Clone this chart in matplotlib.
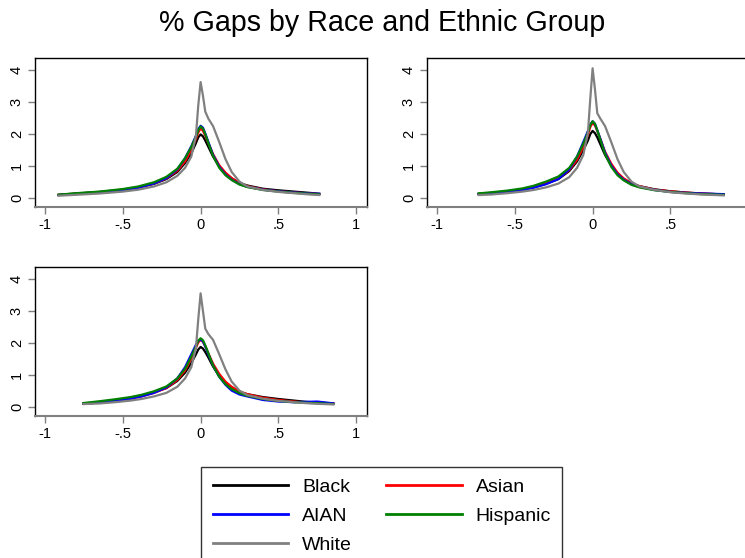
import matplotlib
matplotlib.use("Agg")
import matplotlib.pyplot as plt
from matplotlib.lines import Line2D

plt.rcParams['font.family'] = ['Liberation Sans', 'DejaVu Sans']

groups = ['Black', 'Asian', 'AIAN', 'Hispanic', 'White']
colors = {'Black': 'black', 'Asian': 'red', 'AIAN': 'blue', 'Hispanic': 'green', 'White': 'gray'}

# panel 1 (top left)
x1 = [-0.92, -0.8, -0.65, -0.5, -0.4, -0.3, -0.22, -0.15, -0.1, -0.06, -0.03, -0.015, 0,
      0.015, 0.03, 0.05, 0.08, 0.12, 0.16, 0.2, 0.25, 0.3, 0.4, 0.5, 0.6, 0.7, 0.77]
black1 = [0.11, 0.15, 0.2, 0.27, 0.34, 0.45, 0.6, 0.82, 1.1, 1.4, 1.72, 1.9, 1.99,
          1.93, 1.8, 1.6, 1.3, 1.0, 0.78, 0.62, 0.48, 0.4, 0.3, 0.25, 0.21, 0.17, 0.14]
asian1 = [0.1, 0.14, 0.19, 0.26, 0.33, 0.46, 0.62, 0.86, 1.15, 1.5, 1.85, 2.05, 2.18,
          2.1, 1.95, 1.72, 1.38, 1.03, 0.8, 0.63, 0.48, 0.38, 0.28, 0.22, 0.18, 0.15, 0.13]
aian1 = [0.1, 0.14, 0.19, 0.26, 0.33, 0.46, 0.63, 0.9, 1.25, 1.62, 1.95, 2.15, 2.26,
         2.2, 2.02, 1.75, 1.35, 0.98, 0.74, 0.58, 0.44, 0.36, 0.27, 0.22, 0.18, 0.15, 0.14]
hisp1 = [0.11, 0.16, 0.21, 0.29, 0.37, 0.5, 0.67, 0.92, 1.25, 1.6, 1.92, 2.12, 2.24,
         2.17, 2.0, 1.72, 1.32, 0.95, 0.72, 0.57, 0.43, 0.35, 0.26, 0.21, 0.17, 0.14, 0.12]
white1 = [0.08, 0.11, 0.15, 0.21, 0.27, 0.37, 0.5, 0.7, 0.95, 1.3, 1.95, 2.9, 3.62,
          3.2, 2.7, 2.48, 2.25, 1.75, 1.22, 0.82, 0.52, 0.37, 0.26, 0.2, 0.16, 0.12, 0.1]

# panel 2 (top right)
x2 = [-0.74, -0.65, -0.55, -0.45, -0.38, -0.3, -0.22, -0.15, -0.1, -0.06, -0.03, -0.015, 0,
      0.015, 0.03, 0.05, 0.08, 0.12, 0.16, 0.2, 0.25, 0.3, 0.4, 0.5, 0.6, 0.7, 0.85]
black2 = [0.14, 0.17, 0.22, 0.28, 0.34, 0.45, 0.6, 0.85, 1.15, 1.5, 1.8, 2.0, 2.1,
          2.03, 1.9, 1.68, 1.35, 1.02, 0.78, 0.6, 0.46, 0.38, 0.28, 0.22, 0.18, 0.15, 0.12]
asian2 = [0.13, 0.16, 0.21, 0.28, 0.35, 0.47, 0.62, 0.88, 1.2, 1.6, 1.98, 2.22, 2.35,
          2.27, 2.1, 1.85, 1.45, 1.08, 0.8, 0.62, 0.47, 0.38, 0.27, 0.22, 0.18, 0.15, 0.12]
aian2 = [0.13, 0.16, 0.2, 0.26, 0.33, 0.44, 0.6, 0.9, 1.3, 1.75, 2.1, 2.3, 2.4,
         2.32, 2.12, 1.85, 1.42, 1.02, 0.75, 0.58, 0.44, 0.36, 0.26, 0.2, 0.17, 0.15, 0.13]
hisp2 = [0.15, 0.19, 0.24, 0.31, 0.39, 0.52, 0.68, 0.95, 1.3, 1.7, 2.05, 2.28, 2.4,
         2.32, 2.12, 1.82, 1.38, 0.98, 0.72, 0.56, 0.42, 0.34, 0.25, 0.2, 0.16, 0.13, 0.11]
white2 = [0.1, 0.12, 0.16, 0.21, 0.26, 0.34, 0.46, 0.66, 0.95, 1.35, 2.05, 3.1, 4.05,
          3.4, 2.65, 2.48, 2.25, 1.75, 1.22, 0.82, 0.52, 0.37, 0.26, 0.19, 0.15, 0.12, 0.09]

# panel 3 (bottom left)
x3 = [-0.76, -0.65, -0.55, -0.45, -0.38, -0.3, -0.22, -0.15, -0.1, -0.06, -0.03, -0.015, 0,
      0.015, 0.03, 0.05, 0.08, 0.12, 0.16, 0.2, 0.25, 0.3, 0.4, 0.5, 0.6, 0.68, 0.75, 0.86]
black3 = [0.12, 0.16, 0.22, 0.3, 0.37, 0.47, 0.6, 0.82, 1.08, 1.38, 1.65, 1.8, 1.88,
          1.83, 1.72, 1.55, 1.27, 0.98, 0.76, 0.6, 0.48, 0.41, 0.32, 0.26, 0.21, 0.17, 0.15, 0.12]
asian3 = [0.11, 0.15, 0.2, 0.27, 0.34, 0.45, 0.6, 0.85, 1.15, 1.52, 1.85, 2.02, 2.1,
          2.04, 1.9, 1.68, 1.36, 1.04, 0.8, 0.64, 0.5, 0.41, 0.3, 0.23, 0.18, 0.15, 0.14, 0.12]
aian3 = [0.11, 0.15, 0.2, 0.27, 0.34, 0.45, 0.62, 0.9, 1.25, 1.65, 1.95, 2.07, 2.11,
         2.05, 1.9, 1.65, 1.3, 0.95, 0.7, 0.52, 0.4, 0.34, 0.23, 0.18, 0.16, 0.17, 0.18, 0.12]
hisp3 = [0.13, 0.19, 0.25, 0.32, 0.39, 0.5, 0.65, 0.9, 1.2, 1.58, 1.9, 2.08, 2.15,
         2.09, 1.93, 1.68, 1.3, 0.95, 0.72, 0.57, 0.44, 0.36, 0.26, 0.2, 0.16, 0.14, 0.13, 0.1]
white3 = [0.1, 0.12, 0.16, 0.21, 0.26, 0.34, 0.45, 0.64, 0.9, 1.25, 1.85, 2.75, 3.55,
          3.0, 2.45, 2.28, 2.1, 1.65, 1.18, 0.8, 0.52, 0.38, 0.27, 0.2, 0.16, 0.13, 0.11, 0.09]

panels = [
    (x1, [black1, asian1, aian1, hisp1, white1]),
    (x2, [black2, asian2, aian2, hisp2, white2]),
    (x3, [black3, asian3, aian3, hisp3, white3]),
]

xticks = [-1, -0.5, 0, 0.5, 1]
xticklabels = ['-1', '-.5', '0', '.5', '1']
yticks = [0, 1, 2, 3, 4]

W, H = 745, 558
fig = plt.figure(figsize=(W / 100, H / 100), dpi=100)

# axes boxes in pixels: left, top, right, bottom
boxes = [(35, 58, 367, 207), (427, 58, 759, 207), (35, 267, 367, 416)]

for (xs, series), (l, t, r, b) in zip(panels, boxes):
    ax = fig.add_axes([l / W, 1 - b / H, (r - l) / W, (b - t) / H])
    for g, ys in zip(groups, series):
        ax.plot(xs, ys, color=colors[g], lw=1.6, solid_capstyle='butt')
    ax.set_xlim(-1.065, 1.07)
    ax.set_ylim(-0.27, 4.37)
    ax.set_xticks(xticks)
    ax.set_xticklabels(xticklabels)
    ax.set_yticks(yticks)
    ax.set_yticklabels([str(v) for v in yticks], rotation=90, va='center')
    ax.tick_params(axis='both', labelsize=10.5, length=5, width=1, color='#808080', pad=3)
    for s in ['top', 'right', 'left']:
        ax.spines[s].set_color('black')
        ax.spines[s].set_linewidth(1)
    ax.spines['bottom'].set_color('#808080')
    ax.spines['bottom'].set_linewidth(1.5)

fig.text(0.513, 1 - 23 / H, '% Gaps by Race and Ethnic Group', ha='center', va='center', fontsize=20.6)

order = ['Black', 'AIAN', 'White', 'Asian', 'Hispanic']
handles = [Line2D([], [], color=colors[g], lw=2) for g in order]
leg = fig.legend(handles, order, loc='upper left', bbox_to_anchor=(201 / W, 1 - 467 / H),
                 ncol=2, fontsize=14, frameon=True, fancybox=False, edgecolor='black',
                 handlelength=3.9, handletextpad=0.7, columnspacing=1.75, labelspacing=0.58,
                 borderpad=0.6, borderaxespad=0)
leg.get_frame().set_linewidth(1)

fig.savefig('out.png', dpi=100)
